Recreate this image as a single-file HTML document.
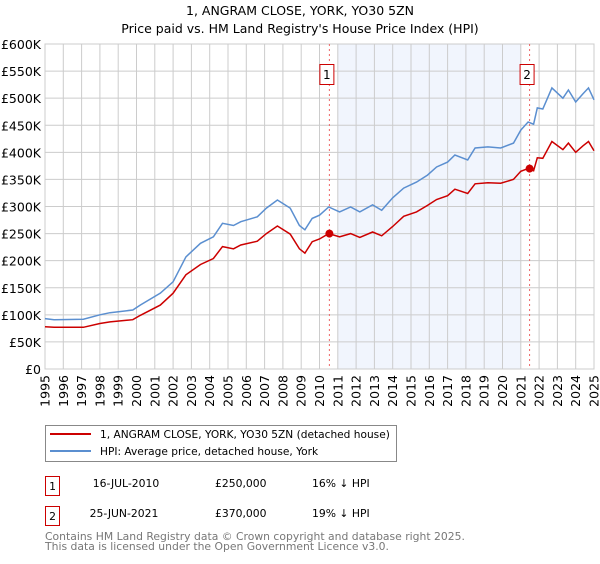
<!DOCTYPE html>
<html><head><meta charset="utf-8"><style>
body{margin:0;background:#fff;font-family:"DejaVu Sans","Liberation Sans",sans-serif}
</style></head><body>
<svg id="chart" width="600" height="560" xmlns="http://www.w3.org/2000/svg" font-family="DejaVu Sans, Liberation Sans, sans-serif">
<text x="300" y="15" text-anchor="middle" font-size="12.5">1, ANGRAM CLOSE, YORK, YO30 5ZN</text>
<text x="300" y="33" text-anchor="middle" font-size="12.5">Price paid vs. HM Land Registry's House Price Index (HPI)</text>
<g id="grid"></g><g id="plot"></g><g id="axes"></g>
<rect x="45.5" y="425.5" width="351" height="36" fill="#fff" stroke="#888"/>
<line x1="50" y1="434" x2="91" y2="434" stroke="#cc0000" stroke-width="2"/>
<text x="100" y="438" font-size="10.6">1, ANGRAM CLOSE, YORK, YO30 5ZN (detached house)</text>
<line x1="50" y1="451" x2="91" y2="451" stroke="#5b8fd0" stroke-width="2"/>
<text x="100" y="455" font-size="10.6">HPI: Average price, detached house, York</text>
<g font-size="10.8">
<rect x="45.5" y="476.5" width="14" height="19" fill="#fff" stroke="#cc0000"/>
<text x="52.5" y="490" text-anchor="middle">1</text>
<text x="126" y="487" text-anchor="middle">16-JUL-2010</text>
<text x="215" y="487">£250,000</text>
<text x="312" y="487">16% ↓ HPI</text></g>
<g font-size="10.8">
<rect x="45.5" y="506.5" width="14" height="19" fill="#fff" stroke="#cc0000"/>
<text x="52.5" y="520" text-anchor="middle">2</text>
<text x="124" y="517" text-anchor="middle">25-JUN-2021</text>
<text x="215" y="517">£370,000</text>
<text x="312" y="517">19% ↓ HPI</text></g>
<text x="45" y="540" font-size="10.8" fill="#777">Contains HM Land Registry data © Crown copyright and database right 2025.</text>
<text x="45" y="550" font-size="10.8" fill="#777">This data is licensed under the Open Government Licence v3.0.</text>
</svg>
<script>
const years=[1995,1995.5,1997.1,1998.0,1998.55,1999.8,2000.2,2001.3,2002.0,2002.7,2003.5,2004.2,2004.7,2005.3,2005.7,2006.6,2007.1,2007.7,2008.4,2008.9,2009.2,2009.6,2010.0,2010.5,2011.1,2011.7,2012.2,2012.9,2013.4,2014.0,2014.6,2015.3,2015.9,2016.4,2017.0,2017.4,2018.1,2018.5,2019.2,2019.9,2020.6,2021.0,2021.4,2021.7,2021.9,2022.2,2022.7,2023.3,2023.6,2024.0,2024.4,2024.7,2025.0];
const hpi=[93,91,92,100,104,109,118,140,161,207,232,244,269,265,272,281,297,312,297,265,257,278,284,299,290,299,290,303,293,316,334,345,358,373,382,395,386,408,410,408,417,441,456,452,482,480,519,500,515,493,508,519,497];
const price=[78,77,77,84,87,91,99,118,140,174,193,204,226,222,229,236,250,264,249,222,214,235,240,250,244,250,243,253,246,263,282,290,302,313,320,332,324,342,344,343,350,365,370,366,390,389,420,405,417,400,412,420,403];
const saleYears=[2010.54,2021.48];
const saleValues=[250,370];
const yTicks=[0,50,100,150,200,250,300,350,400,450,500,550,600];
const yTickLabels=["£0","£50K","£100K","£150K","£200K","£250K","£300K","£350K","£400K","£450K","£500K","£550K","£600K"];
const xTicks=[1995,1996,1997,1998,1999,2000,2001,2002,2003,2004,2005,2006,2007,2008,2009,2010,2011,2012,2013,2014,2015,2016,2017,2018,2019,2020,2021,2022,2023,2024,2025];
const shadeRange=[2011.0,2021.0];
const X0=45,X1=594,Y0=369,Y1=44;
const sx=y=>X0+(y-1995)/30*(X1-X0);
const sy=v=>Y0-v/600*(Y0-Y1);
const NS="http://www.w3.org/2000/svg";
function mk(parent,tag,attrs){const e=document.createElementNS(NS,tag);for(const k in attrs)e.setAttribute(k,attrs[k]);parent.appendChild(e);return e;}
const grid=document.getElementById('grid'),plot=document.getElementById('plot'),axes=document.getElementById('axes');
mk(grid,'rect',{x:X0,y:Y1,width:X1-X0,height:Y0-Y1,fill:'#fff',stroke:'#ccc'});
const sh=mk(grid,'rect',{x:sx(shadeRange[0]),y:Y1,width:sx(shadeRange[1])-sx(shadeRange[0]),height:Y0-Y1,fill:'#eef3fc',opacity:0.8});


yTicks.forEach((v,i)=>{
 const l=mk(grid,'line',{x1:X0,x2:X1,y1:sy(v),y2:sy(v),stroke:'#ccc'});
 
 
 const t=mk(axes,'text',{x:X0-4,y:sy(v)+5,'text-anchor':'end','font-size':'12.5'});
 t.textContent=yTickLabels[i];
 
 
});
xTicks.forEach(yr=>{
 const l=mk(grid,'line',{x1:sx(yr),x2:sx(yr),y1:Y1,y2:Y0,stroke:'#ccc'});
 
 
 const t=mk(axes,'text',{x:0,y:0,'text-anchor':'end','font-size':'12.5',transform:`translate(${sx(yr)+4.5},${Y0+6}) rotate(-90)`});
 t.textContent=yr;
 
 
});
saleYears.forEach((yr,i)=>{
 const l=mk(plot,'line',{x1:sx(yr),x2:sx(yr),y1:Y1,y2:Y0,stroke:'#e66','stroke-dasharray':'2,3'});
 
 
});
const path=(vals)=>vals.map((v,i)=>(i?'L':'M')+sx(years[i]).toFixed(1)+','+sy(v).toFixed(1)).join('');
const ph=mk(plot,'path',{d:path(hpi),fill:'none',stroke:'#5b8fd0','stroke-width':1.5});


const pp=mk(plot,'path',{d:path(price),fill:'none',stroke:'#cc0000','stroke-width':1.5});


saleYears.forEach((yr,i)=>{
 const c=mk(plot,'circle',{cx:sx(yr),cy:sy(saleValues[i]),r:4,fill:'#cc0000'});
 
 
 const g=mk(plot,'g',{});
 
 
 mk(g,'rect',{x:sx(yr)-9.5,y:64.5,width:14,height:20,fill:'#fff',stroke:'#cc0000'});
 const t=mk(g,'text',{x:sx(yr)-2.5,y:79,'text-anchor':'middle','font-size':'12'});
 t.textContent=String(i+1);
});
</script>
</body></html>
